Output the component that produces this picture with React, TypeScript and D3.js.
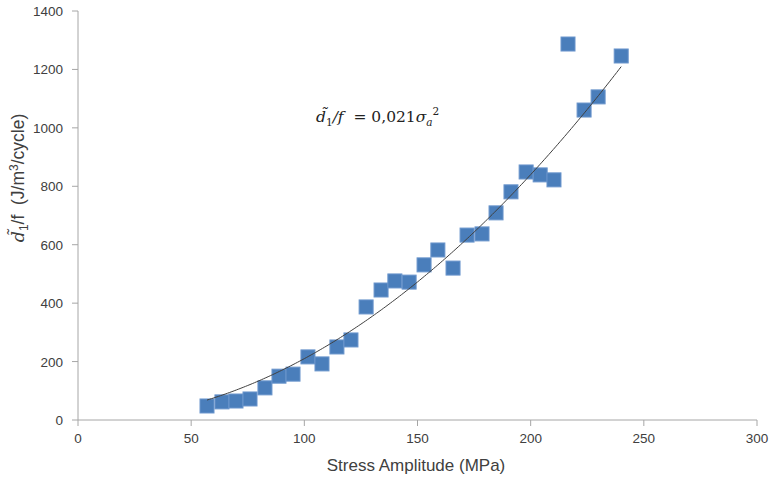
import React from "react";
import * as d3 from "d3";

const stress: number[] = [57, 63.6, 69.8, 76, 82.6, 88.8, 95, 101.6, 107.8, 114.4, 120.6, 127.3, 133.9, 140, 146.3, 152.9, 159, 165.7, 171.9, 178.5, 184.7, 191.3, 198, 204.2, 210.3, 216.5, 223.6, 229.8, 240];
const energy: number[] = [48, 62, 65, 72, 110, 150, 157, 216, 192, 250, 274, 387, 445, 476, 472, 531, 582, 520, 633, 637, 709, 781, 849, 839, 822, 1287, 1061, 1106, 1246];
const xTicks: number[] = [0, 50, 100, 150, 200, 250, 300];
const yTicks: number[] = [0, 200, 400, 600, 800, 1000, 1200, 1400];
const coef = 0.021;

export default function App() {
  const W = 769, H = 481;
  const x = d3.scaleLinear().domain([0, 300]).range([78, 757]);
  const y = d3.scaleLinear().domain([0, 1400]).range([420, 11]);
  const x0 = d3.min(stress) as number;
  const x1 = d3.max(stress) as number;
  const fitPts: [number, number][] = d3.range(x0, x1 + 0.001, 1).map((s) => [s, coef * s * s]);
  fitPts.push([x1, coef * x1 * x1]);
  const line = d3.line<[number, number]>().x((d) => x(d[0])).y((d) => y(d[1]));
  const axisColor = "#a6a6a6";
  const font = "'Liberation Sans', Arial, sans-serif";
  const m = 14;
  return (
    <svg width={W} height={H} style={{ position: "absolute", left: 0, top: 0, background: "#fff" }}>
      {/* axes */}
      <line x1={x(0)} x2={x(300)} y1={y(0)} y2={y(0)} stroke={axisColor} strokeWidth={1} />
      <line x1={x(0)} x2={x(0)} y1={y(0)} y2={y(1400)} stroke={axisColor} strokeWidth={1} />
      {xTicks.map((t) => (
        <g key={"x" + t}>
          <line x1={x(t)} x2={x(t)} y1={y(0)} y2={y(0) + 6} stroke={axisColor} />
          <text x={x(t)} y={443} textAnchor="middle" fontFamily={font} fontSize={13.5} fill="#404040">{t}</text>
        </g>
      ))}
      {yTicks.map((t) => (
        <g key={"y" + t}>
          <line x1={x(0) - 6} x2={x(0)} y1={y(t)} y2={y(t)} stroke={axisColor} />
          <text x={63} y={y(t) + 5} textAnchor="end" fontFamily={font} fontSize={13.5} fill="#404040">{t}</text>
        </g>
      ))}
      {/* markers */}
      {stress.map((s, i) => (
        <rect key={i} x={x(s) - m / 2} y={y(energy[i]) - m / 2} width={m} height={m} fill="#4a7ebb" stroke="#6a95cc" strokeWidth={1} />
      ))}
      {/* fit */}
      <path d={line(fitPts) || ""} fill="none" stroke="#404040" strokeWidth={1} />
      {/* equation */}
      <text x={316} y={122} fontFamily="'DejaVu Serif', serif" fontSize={15.5} fill="#222">
        <tspan fontStyle="italic">d̃</tspan>
        <tspan fontSize={10.5} dy={4}>1</tspan>
        <tspan dy={-4} fontStyle="italic">/f</tspan>
        <tspan>{"\u00a0\u00a0= 0,021"}</tspan>
        <tspan fontStyle="italic">σ</tspan>
        <tspan fontSize={10.5} dy={4} fontStyle="italic">a</tspan>
        <tspan fontSize={10.5} dy={-11}>2</tspan>
      </text>
      {/* axis titles */}
      <text x={416} y={471} textAnchor="middle" fontFamily={font} fontSize={17} fill="#404040">Stress Amplitude (MPa)</text>
      <text transform="translate(24,178) rotate(-90)" textAnchor="middle" fontFamily={font} fontSize={17.5} fill="#404040">
        <tspan fontFamily="'DejaVu Serif', serif" fontStyle="italic">d̃</tspan>
        <tspan fontSize={12} dy={4}>1</tspan>
        <tspan dy={-4}>{"/f\u00a0\u00a0(J/m"}</tspan>
        <tspan fontSize={12} dy={-6}>3</tspan>
        <tspan dy={6}>/cycle)</tspan>
      </text>
    </svg>
  );
}
